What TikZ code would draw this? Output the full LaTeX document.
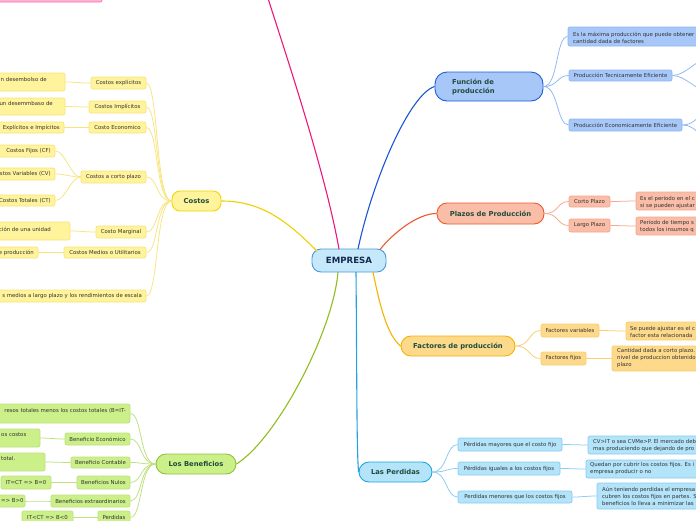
\documentclass[tikz,border=0pt]{standalone}
\usepackage{fontspec}
\setmainfont{DejaVu Sans}
\definecolor{eFill}{HTML}{C5E8FA}\definecolor{eDraw}{HTML}{4A9AD6}
\definecolor{fFill}{HTML}{A7C7F9}\definecolor{fDraw}{HTML}{1C5FD8}\definecolor{fSub}{HTML}{8DB8F2}\definecolor{fLine}{HTML}{1A57D6}
\definecolor{pFill}{HTML}{F9BDA8}\definecolor{pDraw}{HTML}{EE5A2C}\definecolor{pSub}{HTML}{F6A890}
\definecolor{aFill}{HTML}{FDD98B}\definecolor{aDraw}{HTML}{F5B300}\definecolor{aSub}{HTML}{F9CF6E}
\definecolor{lFill}{HTML}{B3E4FA}\definecolor{lDraw}{HTML}{22A3DF}\definecolor{lSub}{HTML}{86CDEF}
\definecolor{bFill}{HTML}{CCF089}\definecolor{bDraw}{HTML}{8CC43A}\definecolor{bSub}{HTML}{BEE07E}\definecolor{bLine}{HTML}{8FBE1E}
\definecolor{cFill}{HTML}{FFF39C}\definecolor{cDraw}{HTML}{F2D600}\definecolor{cSub}{HTML}{F8E57C}\definecolor{cLine}{HTML}{EFD000}
\definecolor{kFill}{HTML}{FFB3D6}\definecolor{kDraw}{HTML}{FF6FB3}\definecolor{kLine}{HTML}{F0177C}
\definecolor{txt}{HTML}{333333}\definecolor{mtxt}{HTML}{1E4D3B}\definecolor{etxt}{HTML}{15294D}
\newcommand\bx[7]{\node[#6, minimum width={(#4-(#2))*1pt}, minimum height={(#5-(#3))*1pt}] (#1) at ({(#2+#4)/2},{(#3+#5)/2}) {#7};}
\tikzset{
  sbox/.style={draw, rounded corners=2pt, inner sep=0pt, line width=0.7pt, text=txt, font=\fontsize{5.4}{7}\selectfont},
  mbox/.style={draw, inner sep=0pt, line width=0.9pt, text=mtxt, font=\bfseries\fontsize{6.8}{9}\selectfont},
  stxt/.style={inner sep=0pt, text=txt, font=\fontsize{5.4}{7}\selectfont, align=left},
  mtext/.style={inner sep=0pt, text=mtxt, font=\bfseries\fontsize{6.8}{9}\selectfont, align=left},
  boxF/.style={sbox, fill=fFill, draw=fSub},
  boxP/.style={sbox, fill=pFill, draw=pSub},
  boxA/.style={sbox, fill=aFill, draw=aSub},
  boxL/.style={sbox, fill=lFill, draw=lSub},
  boxB/.style={sbox, fill=bFill, draw=bSub},
  boxC/.style={sbox, fill=cFill, draw=cSub},
  boxK/.style={sbox, fill=kFill, draw=kDraw},
  sline/.style={line width=0.75pt},
  mline/.style={line width=1.1pt},
}
\begin{document}
\begin{tikzpicture}[x=1pt,y=-1pt]
\useasboundingbox (0,0) rectangle (696,520);
\fill[white] (0,0) rectangle (696,520);
\clip (0,0) rectangle (696,520);

% central node
\bx{emp}{312}{249}{386}{272}{mbox, fill=eFill, draw=eDraw, text=etxt, rounded corners=9pt, font=\bfseries\fontsize{8.6}{10}\selectfont}{EMPRESA}

% pink (top, clipped)
\bx{pink}{-20}{-20}{102}{2}{boxK}{}
\coordinate (pinkend) at (267,-5);

% Funcion de produccion
\bx{fun}{435}{72}{543}{101}{mbox, fill=fFill, draw=fDraw, rounded corners=12pt}{}
\node[mtext, anchor=west] (funt) at (452,86.5) {Función de\\producción};
\bx{fl1}{568}{27}{720}{46}{boxF}{}
\node[stxt, anchor=west] (fl1t) at (573,37.5) {Es la máxima producción que puede obtener\\cantidad dada de factores};
\bx{fte}{569}{70}{672}{81}{boxF}{Producción Tecnicamente Eficiente}
\bx{fee}{569}{119}{682}{131}{boxF}{Producción Economicamente Eficiente}
\coordinate (fte1) at (712,57);
\coordinate (fte2) at (712,93);
\coordinate (fee1) at (712,112);
\coordinate (fee2) at (712,138);

% Plazos
\bx{pla}{437}{203}{544}{224}{mbox, fill=pFill, draw=pDraw, rounded corners=10pt}{Plazos de Producción}
\bx{pco}{569}{196}{610}{207}{boxP}{Corto Plazo}
\bx{plg}{569}{219}{610}{232}{boxP}{Largo Plazo}
\bx{pl1}{636}{192}{720}{210}{boxP}{}
\node[stxt, anchor=west] (pl1t) at (640,202.5) {Es el periodo en el c\\si se pueden ajustar};
\bx{pl2}{636}{217}{720}{235}{boxP}{}
\node[stxt, anchor=west] (pl2t) at (640,226.5) {Periodo de tiempo s\\todos los insumos q};

% Factores
\bx{fac}{401}{336}{515}{356}{mbox, fill=aFill, draw=aDraw, rounded corners=10pt}{Factores de producción}
\bx{fva}{541}{324}{599}{337}{boxA}{Factores variables}
\bx{ffi}{541}{352}{586}{365}{boxA}{Factores fijos}
\bx{fa1}{626}{322}{720}{340}{boxA}{}
\node[stxt, anchor=west] (fa1t) at (630,331.5) {Se puede ajustar es el c\\factor esta relacionada};
\bx{fa2}{612}{346}{720}{371}{boxA}{}
\node[stxt, anchor=west] (fa2t) at (617,358.5) {Cantidad dada a corto plazo.\\nivel de produccion obtenido\\plazo};

% Perdidas
\bx{per}{359}{462}{432}{482}{mbox, fill=lFill, draw=lDraw, rounded corners=10pt}{Las Perdidas}
\bx{pe1}{458}{438}{562}{451}{boxL}{Pérdidas mayores que el costo fijo}
\bx{pe2}{458}{462}{560}{475}{boxL}{Pérdidas iguales a los costos fijos}
\bx{pe3}{458}{491}{572}{503}{boxL}{Perdidas menores que los costos fijos}
\bx{lq1}{588}{436}{720}{454}{boxL}{}
\node[stxt, anchor=west] (lq1t) at (593,445.5) {CV>IT o sea CVMe>P. El mercado deb\\mas produciendo que dejando de pro};
\bx{lq2}{586}{460}{720}{478}{boxL}{}
\node[stxt, anchor=west] (lq2t) at (590,469) {Quedan por cubrir los costos fijos. Es i\\empresa producir o no};
\bx{lq3}{597}{483}{720}{509}{boxL}{}
\node[stxt, anchor=west] (lq3t) at (602,496.5) {Aún teniendo perdidas el empresa\\cubren los costos fijos en partes. S\\beneficios lo lleva a minimizar las};

% Beneficios
\bx{ben}{156}{454}{236}{474}{mbox, fill=bFill, draw=bDraw, rounded corners=10pt}{Los Beneficios}
\bx{bb0}{-20}{404}{130}{423}{boxB}{}
\node[stxt, anchor=east] (bb0t) at (126,411) {resos totales menos los costos totales (B=IT-};
\bx{bec}{65}{433}{130}{445}{boxB}{Beneficio Económico}
\bx{bel}{-20}{429}{40}{447}{boxB}{}
\node[stxt, anchor=west] (belt) at (1,435) {os costos};
\bx{bco}{71}{457}{130}{468}{boxB}{Beneficio Contable}
\bx{bcl}{-20}{453}{45}{471}{boxB}{}
\node[stxt, anchor=west] (bclt) at (1,458.5) {total.};
\bx{bnu}{77}{476}{130}{489}{boxB}{Beneficios Nulos}
\bx{bnl}{1}{476}{51}{489}{boxB}{IT=CT => B=0}
\bx{bex}{51}{495}{130}{507}{boxB}{Beneficios extraordinarios}
\bx{bxl}{-20}{495}{25}{507}{boxB}{}
\node[stxt, anchor=west] (bxlt) at (1,501) {=> B>0};
\bx{bpe}{98}{511}{130}{524}{boxB}{Perdidas}
\bx{bpl}{22}{511}{73}{524}{boxB}{IT<CT => B<0}

% Costos
\bx{cos}{172}{191}{221}{211}{mbox, fill=cFill, draw=cDraw, rounded corners=8pt}{Costos}
\bx{cex}{91}{77}{146}{89}{boxC}{Costos explícitos}
\bx{cexl}{-20}{73}{65}{91}{boxC}{}
\node[stxt, anchor=east] (cexlt) at (47,79.5) {n desembolso de};
\bx{cim}{89}{101}{146}{113}{boxC}{Costos Implícitos}
\bx{ciml}{-20}{98}{65}{115}{boxC}{}
\node[stxt, anchor=east] (cimlt) at (53,103.5) {un desemmbaso de};
\bx{cec}{89}{122}{146}{133}{boxC}{Costo Economico}
\bx{cecl}{-20}{122}{64}{133}{boxC}{}
\node[stxt, anchor=east] (ceclt) at (60,127.5) {Explícitos e Impícitos};
\bx{ccp}{81}{171}{146}{183}{boxC}{Costos a corto plazo}
\bx{ccf}{-20}{145}{55}{157}{boxC}{}
\node[stxt, anchor=east] (ccft) at (51,151) {Costos Fijos (CF)};
\bx{ccv}{-20}{168}{55}{180}{boxC}{}
\node[stxt, anchor=east] (ccvt) at (51,174) {stos Variables (CV)};
\bx{cct}{-20}{195}{55}{206}{boxC}{}
\node[stxt, anchor=east] (cctt) at (51,200.5) {Costos Totales (CT)};
\bx{cma}{96}{226}{146}{238}{boxC}{Costo Marginal}
\bx{cmal}{-20}{222}{70}{240}{boxC}{}
\node[stxt, anchor=east] (cmalt) at (51,229) {ción de una unidad};
\bx{cme}{64}{247}{146}{258}{boxC}{Costos Medios o Utilitarios}
\bx{cmel}{-20}{247}{38}{258}{boxC}{}
\node[stxt, anchor=east] (cmelt) at (34,252.5) {e producción};
\bx{clp}{-20}{290}{146}{302}{boxC}{}
\node[stxt, anchor=east] (clpt) at (142,296) {s medios a largo plazo y los rendimientos de escala};

% main connectors
\draw[mline, kLine] (emp.center) ++(-10,-11.3) .. controls +(-14,-80) and +(14,45) .. (pinkend);
\draw[mline, fLine] (emp.center) ++(9,-11.5) .. controls +(15,-70) and +(-25,8) .. (fun.west);
\draw[mline, pDraw] (emp.center) ++(31,-11) .. controls +(12,-15) and +(-20,0) .. (pla.west);
\draw[mline, aDraw] (emp.center) ++(24,11.5) .. controls +(8,40) and +(-12,-10) .. (fac.west);
\draw[mline, lDraw] (emp.center) ++(7,11.5) .. controls +(1,110) and +(-2,-25) .. (per.west);
\draw[mline, bLine] (emp.center) ++(-11,11.5) .. controls +(-5,60) and +(40,-25) .. (ben.east);
\draw[mline, cLine] (emp.center) ++(-32,-9.5) .. controls +(-30,-30) and +(40,0) .. (cos.east);

% sub connectors
\foreach \c in {cex,cim,cec,ccp,cma,cme,clp}
  \draw[sline, cSub] (cos.west) .. controls +(-16,0) and +(12,0) .. (\c.east);
\foreach \a/\b in {cex/cexl,cim/ciml,cec/cecl,ccp/ccf,ccp/ccv,ccp/cct,cma/cmal,cme/cmel}
  \draw[sline, cSub] (\a.west) .. controls +(-10,0) and +(10,0) .. (\b.east);

\foreach \c in {bb0,bec,bco,bnu,bex,bpe}
  \draw[sline, bSub] (ben.west) .. controls +(-16,0) and +(12,0) .. (\c.east);
\foreach \a/\b in {bec/bel,bco/bcl,bnu/bnl,bex/bxl,bpe/bpl}
  \draw[sline, bSub] (\a.west) .. controls +(-10,0) and +(10,0) .. (\b.east);

\foreach \c in {fl1,fte,fee}
  \draw[sline, fSub] (fun.east) .. controls +(15,0) and +(-12,0) .. (\c.west);
\foreach \a/\b in {fte/fte1,fte/fte2,fee/fee1,fee/fee2}
  \draw[sline, fSub] (\a.east) .. controls +(14,0) and +(-14,0) .. (\b);

\foreach \c in {pco,plg}
  \draw[sline, pSub] (pla.east) .. controls +(15,0) and +(-12,0) .. (\c.west);
\draw[sline, pSub] (pco.east) .. controls +(10,0) and +(-10,0) .. (pl1.west);
\draw[sline, pSub] (plg.east) .. controls +(10,0) and +(-10,0) .. (pl2.west);

\foreach \c in {fva,ffi}
  \draw[sline, aSub] (fac.east) .. controls +(15,0) and +(-12,0) .. (\c.west);
\draw[sline, aSub] (fva.east) .. controls +(10,0) and +(-10,0) .. (fa1.west);
\draw[sline, aSub] (ffi.east) .. controls +(10,0) and +(-10,0) .. (fa2.west);

\foreach \c in {pe1,pe2,pe3}
  \draw[sline, lSub] (per.east) .. controls +(15,0) and +(-12,0) .. (\c.west);
\draw[sline, lSub] (pe1.east) .. controls +(10,0) and +(-10,0) .. (lq1.west);
\draw[sline, lSub] (pe2.east) .. controls +(10,0) and +(-10,0) .. (lq2.west);
\draw[sline, lSub] (pe3.east) .. controls +(10,0) and +(-10,0) .. (lq3.west);
\end{tikzpicture}
\end{document}
